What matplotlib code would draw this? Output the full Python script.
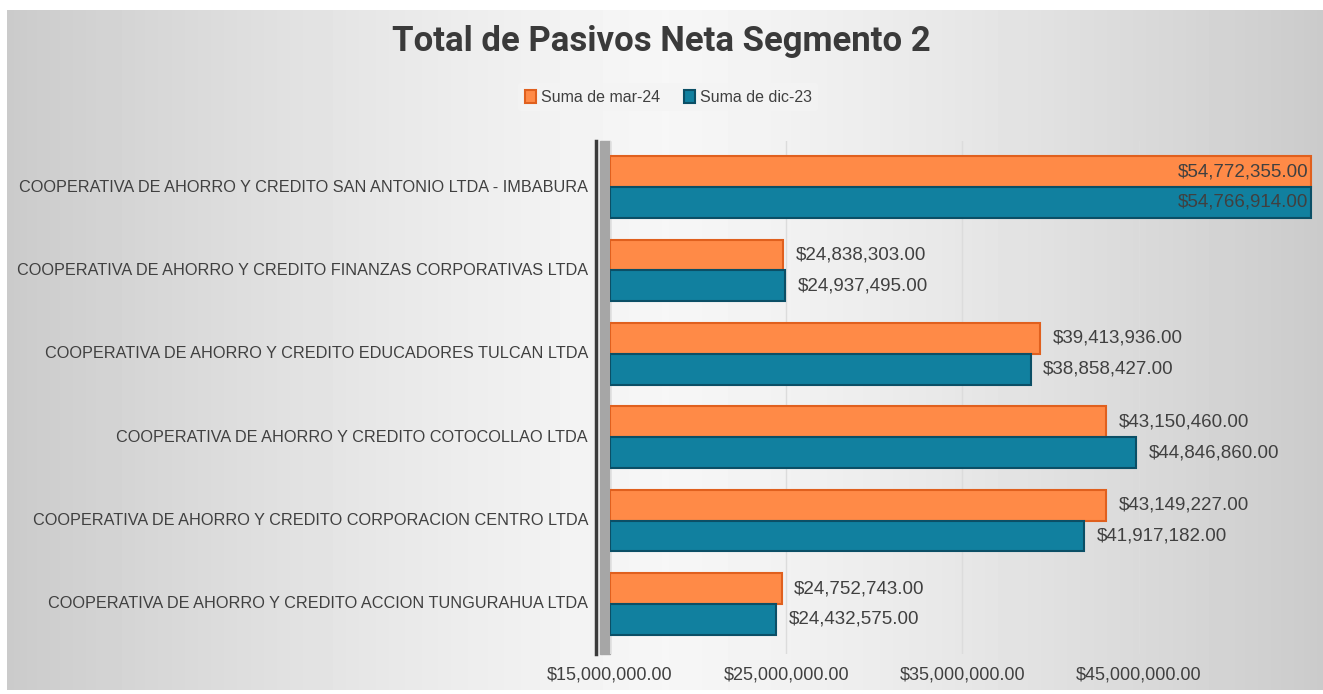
import numpy as np
import matplotlib
matplotlib.use("Agg")
import matplotlib.pyplot as plt
import matplotlib.transforms as mtransforms
from matplotlib.ticker import FuncFormatter

categorias = [
    "COOPERATIVA DE AHORRO Y CREDITO ACCION TUNGURAHUA LTDA",
    "COOPERATIVA DE AHORRO Y CREDITO CORPORACION CENTRO LTDA",
    "COOPERATIVA DE AHORRO Y CREDITO COTOCOLLAO LTDA",
    "COOPERATIVA DE AHORRO Y CREDITO EDUCADORES TULCAN LTDA",
    "COOPERATIVA DE AHORRO Y CREDITO FINANZAS CORPORATIVAS LTDA",
    "COOPERATIVA DE AHORRO Y CREDITO SAN ANTONIO LTDA - IMBABURA",
]
mar24 = [24752743, 43149227, 43150460, 39413936, 24838303, 54772355]
dic23 = [24432575, 41917182, 44846860, 38858427, 24937495, 54766914]
ticks = [15000000, 25000000, 35000000, 45000000]

naranja = "#FF8A47"
azul = "#11809F"
gris_txt = "#404040"

fig = plt.figure(figsize=(13.23, 6.94), dpi=100)

# fondo con degradado gris
bg = fig.add_axes([0.005, 0.006, 0.995, 0.979], zorder=-10)
xx = np.linspace(-1, 1, 400)
grad = 0.965 - 0.17 * np.abs(xx) ** 1.3
bg.imshow(np.tile(grad, (50, 1)), cmap="gray", vmin=0, vmax=1, aspect="auto",
          extent=[0, 1, 0, 1])
bg.axis("off")

ax = fig.add_axes([0.461, 0.0576, 0.533, 0.739])
ax.patch.set_alpha(0)

y = np.arange(len(categorias))
h = 0.37
ax.barh(y + h / 2, np.array(mar24) - 15000000, h, left=15000000, color=naranja,
        edgecolor="#E0601E", linewidth=1.5, label="Suma de mar-24", zorder=3)
ax.barh(y - h / 2, np.array(dic23) - 15000000, h, left=15000000, color=azul,
        edgecolor="#0B4F66", linewidth=1.5, label="Suma de dic-23", zorder=3)

xmax = 55000000
for serie, off in [(mar24, h / 2), (dic23, -h / 2)]:
    for i, v in enumerate(serie):
        txt = "${:,.2f}".format(v)
        if v > 48000000:
            ax.text(v - 150000, y[i] + off, txt, va="center", ha="right",
                    fontsize=13.5, color=gris_txt, family="Liberation Sans", zorder=4)
        else:
            ax.text(v + 700000, y[i] + off, txt, va="center", ha="left",
                    fontsize=13.5, color=gris_txt, family="Liberation Sans", zorder=4)

# etiquetas de categoria
trans = mtransforms.blended_transform_factory(ax.transAxes, ax.transData)
for i, c in enumerate(categorias):
    ax.text(-0.031, y[i], c, transform=trans, ha="right", va="center",
            fontsize=11.7, color=gris_txt, family="Liberation Sans",
            clip_on=False)

ax.set_xlim(15000000, xmax)
ax.set_ylim(-0.6, 5.55)
ax.tick_params(axis="x", length=0, pad=9)
ax.set_xticks(ticks)
ax.xaxis.set_major_formatter(FuncFormatter(lambda v, p: "${:,.2f}".format(v)))
ax.set_yticks([])
for t in ax.get_xticklabels():
    t.set_family("Liberation Sans")
    t.set_fontsize(13)
    t.set_color(gris_txt)
ax.grid(axis="x", color="#dcdcdc", linewidth=1, zorder=0)
for s in ["top", "right", "bottom"]:
    ax.spines[s].set_visible(False)
ax.spines["left"].set_color("#3a3a3a")
ax.spines["left"].set_linewidth(2.5)
ax.spines["left"].set_position(("outward", 10))
ax.axvspan(14450000, 15000000, color="#a6a6a6", zorder=1, clip_on=False)

handles, labels = ax.get_legend_handles_labels()
fig.legend(handles, labels, loc="center", bbox_to_anchor=(0.505, 0.86), ncol=2,
           frameon=True, handlelength=0.7, handleheight=0.9,
           handletextpad=0.3, columnspacing=1.5, facecolor="#f4f4f4",
           edgecolor="none", framealpha=0.7, labelcolor=gris_txt,
           prop={"family": "Liberation Sans", "size": 11.5})

fig.text(0.5, 0.94, "Total de Pasivos Neta Segmento 2", ha="center", va="center",
         fontsize=25, fontweight="bold", color="#3a3a3a", family="Roboto")

fig.savefig("out.png", dpi=100)
